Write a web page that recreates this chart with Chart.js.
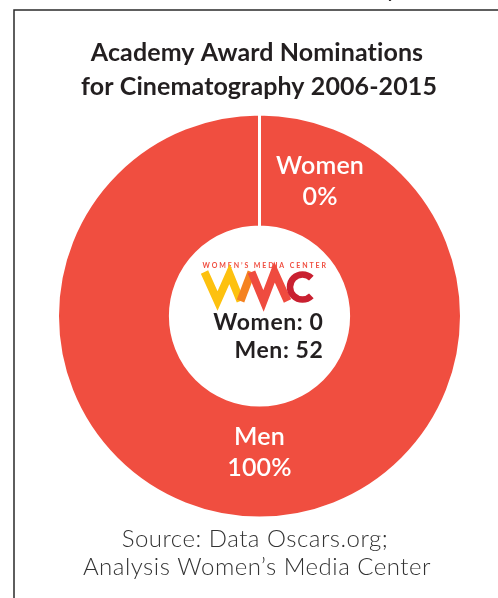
<!DOCTYPE html>
<html>
<head>
<meta charset="utf-8">
<script src="https://cdn.jsdelivr.net/npm/chart.js@4"></script>
<style>
  html, body { margin:0; padding:0; background:#fff; }
  #wrap { position:relative; width:498px; height:598px; overflow:hidden; }
  canvas { position:absolute; left:0; top:0; }
</style>
</head>
<body>
<div id="wrap"><canvas id="c" width="498" height="598"></canvas></div>
<script>
const categories = ['Women', 'Men'];
const nominations = [0, 52];
const titleLines = ['Academy Award Nominations', 'for Cinematography 2006-2015'];
const sourceLines = ['Source: Data Oscars.org;', 'Analysis Women\u2019s Media Center'];
const logoText = 'WOMEN\u2019S MEDIA CENTER';

const RED = '#F04E40';
const total = nominations.reduce((a, b) => a + b, 0);

function spaced(ctx, px) { if ('letterSpacing' in ctx) ctx.letterSpacing = px + 'px'; }

const textPlugin = {
  id: 'texts',
  afterDraw(chart) {
    const ctx = chart.ctx;
    const arc = chart.getDatasetMeta(0).data[1];
    const cx = arc.x, cy = arc.y, R = arc.outerRadius;
    ctx.save();
    // frame
    ctx.strokeStyle = '#2a2a2a';
    ctx.lineWidth = 1.5;
    ctx.beginPath();
    ctx.moveTo(14, 598);
    ctx.lineTo(14, 10);
    ctx.lineTo(498, 10);
    ctx.stroke();
    // fragment of text above frame
    ctx.fillStyle = '#231f20';
    ctx.font = '500 22px Lato';
    ctx.textAlign = 'left';
    ctx.textBaseline = 'alphabetic';
    ctx.fillText('y', 386, -3);

    // title
    ctx.fillStyle = '#231f20';
    ctx.font = 'bold 25px Lato';
    spaced(ctx, 0.1);
    ctx.textAlign = 'center';
    ctx.textBaseline = 'middle';
    ctx.fillText(titleLines[0], 257, 53);
    ctx.fillText(titleLines[1], 259, 87);

    // slice labels
    ctx.fillStyle = '#ffffff';
    ctx.font = '600 25px Lato';
    spaced(ctx, 0.2);
    const pct = v => Math.round(v / total * 100) + '%';
    ctx.fillText(categories[0], cx + 0.30 * R, cy - 0.745 * R);
    ctx.fillText(pct(nominations[0]), cx + 0.30 * R, cy - 0.59 * R);
    ctx.fillText(categories[1], cx, cy + 0.60 * R);
    ctx.fillText(pct(nominations[1]), cx, cy + 0.75 * R);

    // center counts
    ctx.fillStyle = '#231f20';
    ctx.font = 'bold 23px Lato';
    spaced(ctx, 0.6);
    ctx.textAlign = 'right';
    ctx.fillText(categories[0] + ': ' + nominations[0], cx + 64, cy + 7);
    ctx.fillText(categories[1] + ': ' + nominations[1], cx + 64, cy + 35);

    // logo
    const lx = cx - 57, ly = cy - 50;
    ctx.fillStyle = RED;
    ctx.font = 'bold 7px Lato';
    ctx.textAlign = 'left';
    spaced(ctx, 1.9);
    ctx.fillText(logoText, lx, ly);
    spaced(ctx, 0);
    ctx.lineWidth = 8;
    ctx.lineJoin = 'miter';
    ctx.lineCap = 'butt';
    const seg = (pts, col) => {
      ctx.strokeStyle = col;
      ctx.beginPath();
      ctx.moveTo(pts[0][0], pts[0][1]);
      for (let i = 1; i < pts.length; i++) ctx.lineTo(pts[i][0], pts[i][1]);
      ctx.stroke();
    };
    const by = ly + 6, bb = ly + 35;
    seg([[lx + 2, by], [lx + 15, bb], [lx + 27, by + 2], [lx + 38, bb]], '#FDC10F');
    seg([[lx + 38, bb], [lx + 49, by]], '#F58220');
    seg([[lx + 49, by], [lx + 61, bb], [lx + 72, by], [lx + 85, bb]], '#EF4B3F');
    ctx.strokeStyle = '#C92030';
    ctx.lineWidth = 6.5;
    ctx.beginPath();
    ctx.arc(lx + 100, by + 15, 12.5, -Math.PI * 0.25, Math.PI * 0.25, true);
    ctx.stroke();

    // source
    ctx.fillStyle = '#333333';
    ctx.font = '300 24px Lato';
    spaced(ctx, 0.5);
    ctx.textAlign = 'center';
    ctx.textBaseline = 'middle';
    ctx.fillText(sourceLines[0], 255, 539);
    ctx.fillText(sourceLines[1], 257, 567);
    ctx.restore();
  }
};

new Chart(document.getElementById('c'), {
  type: 'doughnut',
  data: {
    labels: categories,
    datasets: [{
      data: nominations,
      backgroundColor: [RED, RED],
      borderColor: '#ffffff',
      borderWidth: 3,
      radius: 202,
      cutout: 88
    }]
  },
  options: {
    responsive: false,
    animation: false,
    layout: { padding: { left: 58.5, top: 115, right: 37.5, bottom: 81 } },
    plugins: { legend: { display: false }, tooltip: { enabled: false }, title: { display: false } }
  },
  plugins: [textPlugin]
});
</script>
</body>
</html>
